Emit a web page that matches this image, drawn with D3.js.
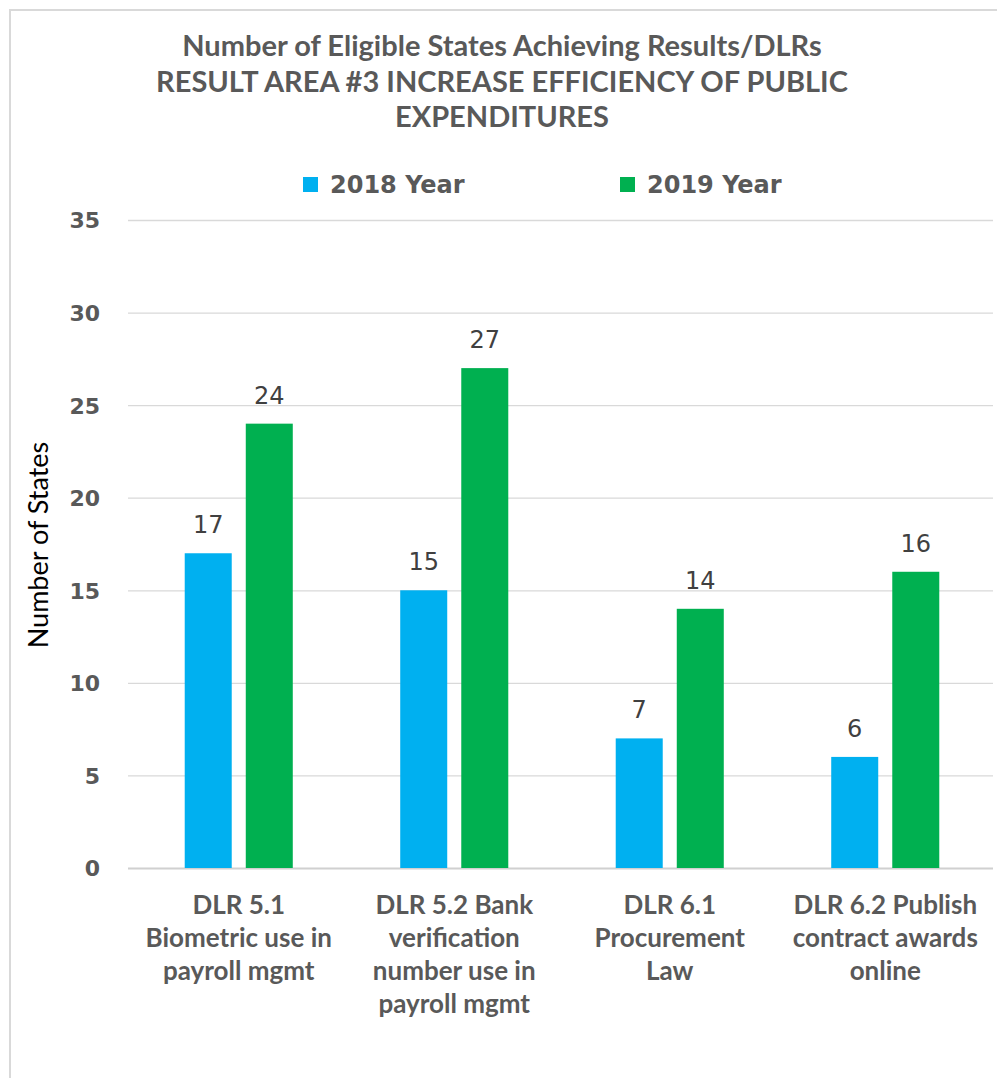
<!DOCTYPE html>
<html>
<head>
<meta charset="utf-8">
<script src="https://cdn.jsdelivr.net/npm/d3@7"></script>
<style>
  body { margin: 0; background: #fff; }
  svg { display: block; }
</style>
</head>
<body>
<svg id="chart"></svg>
<script>
// chart data
var titleLines = [
  "Number of Eligible States Achieving Results/DLRs",
  "RESULT AREA #3 INCREASE EFFICIENCY OF PUBLIC",
  "EXPENDITURES"
];
var categories = ["DLR 5.1", "DLR 5.2", "DLR 6.1", "DLR 6.2"];
var categoryLines = [
  ["DLR 5.1", "Biometric use in", "payroll mgmt"],
  ["DLR 5.2 Bank", "verification", "number use in", "payroll mgmt"],
  ["DLR 6.1", "Procurement", "Law"],
  ["DLR 6.2 Publish", "contract awards", "online"]
];
var seriesNames = ["2018 Year", "2019 Year"];
var values2018 = [17, 15, 7, 6];
var values2019 = [24, 27, 14, 16];
var yTicks = [0, 5, 10, 15, 20, 25, 30, 35];
var colors = ["#00B0F0", "#00B050"];

/* svg setting */
var svgWidth = 997;
var svgHeight = 1078;
var plot = {left: 131, right: 993, top: 220, bottom: 868};

var svg = d3.select("#chart")
    .attr("width", svgWidth)
    .attr("height", svgHeight);

// outer border of the chart area
svg.append("rect")
    .attr("x", 10).attr("y", 10)
    .attr("width", 1100).attr("height", 1200)
    .attr("fill", "#fff")
    .attr("stroke", "#d9d9d9")
    .attr("stroke-width", 2);

var rows = categories.map(function(c, i){
  return {cat: c, lines: categoryLines[i], vals: [values2018[i], values2019[i]]};
});

/* scales */
var x0 = d3.scaleBand()
    .domain(categories)
    .range([plot.left, plot.right]);

var x1 = d3.scaleBand()
    .domain(seriesNames)
    .range([0, x0.bandwidth()])
    .paddingInner(0.23)
    .paddingOuter(0.88);

var y = d3.scaleLinear()
    .domain([0, 35])
    .range([plot.bottom, plot.top]);

/* gridlines + y axis */
var yAxis = svg.append("g")
    .attr("class", "y_axis")
    .attr("transform", translate(plot.left - 3, 0))
    .call(d3.axisLeft(y).tickValues(yTicks).tickSize(-(plot.right - plot.left + 3)).tickPadding(28));

yAxis.select(".domain").remove();
yAxis.selectAll(".tick line")
    .attr("stroke", function(d){ return d === 0 ? "#d0d0d0" : "#d9d9d9"; })
    .attr("stroke-width", function(d){ return d === 0 ? 2 : 1.3; });
yAxis.selectAll(".tick text")
    .attr("font-family", "'DejaVu Sans', sans-serif")
    .attr("font-weight", "bold")
    .attr("font-size", "22px")
    .attr("fill", "#595959")
    .attr("dy", "0.36em");

/* bars */
var groups = svg.append("g").selectAll("g")
    .data(rows)
    .enter()
    .append("g")
    .attr("transform", function(d){ return translate(x0(d.cat), 0); });

groups.selectAll("rect")
    .data(function(d){ return d.vals.map(function(v, i){ return {name: seriesNames[i], v: v, i: i}; }); })
    .enter()
    .append("rect")
    .attr("x", function(d){ return x1(d.name); })
    .attr("y", function(d){ return y(d.v); })
    .attr("width", x1.bandwidth())
    .attr("height", function(d){ return y(0) - y(d.v); })
    .attr("fill", function(d){ return colors[d.i]; });

groups.selectAll("text.val")
    .data(function(d){ return d.vals.map(function(v, i){ return {name: seriesNames[i], v: v}; }); })
    .enter()
    .append("text")
    .attr("class", "val")
    .attr("x", function(d){ return x1(d.name) + x1.bandwidth() / 2; })
    .attr("y", function(d){ return y(d.v) - 20; })
    .attr("text-anchor", "middle")
    .attr("font-family", "'DejaVu Sans', sans-serif")
    .attr("font-size", "24px")
    .attr("fill", "#404040")
    .text(function(d){ return d.v; });

/* category labels */
var catLabels = svg.append("g").selectAll("text")
    .data(rows)
    .enter()
    .append("text")
    .attr("x", function(d){ return x0(d.cat) + x0.bandwidth() / 2; })
    .attr("y", 914)
    .attr("text-anchor", "middle")
    .attr("font-family", "Lato, sans-serif")
    .attr("font-weight", "bold")
    .attr("font-size", "26px")
    .attr("fill", "#595959");

catLabels.selectAll("tspan")
    .data(function(d){ return d.lines; })
    .enter()
    .append("tspan")
    .attr("x", function(){ var p = d3.select(this.parentNode).datum(); return x0(p.cat) + x0.bandwidth() / 2; })
    .attr("dy", function(d, i){ return i === 0 ? 0 : 33; })
    .text(function(d){ return d; });

/* y axis title */
svg.append("text")
    .attr("transform", translate(48, 545) + " rotate(-90)")
    .attr("text-anchor", "middle")
    .attr("font-family", "Lato, sans-serif")
    .attr("font-size", "27px")
    .attr("fill", "#000")
    .text("Number of States");

/* title */
svg.append("g").selectAll("text")
    .data(titleLines)
    .enter()
    .append("text")
    .attr("x", 502)
    .attr("y", function(d, i){ return 56 + i * 35.5; })
    .attr("text-anchor", "middle")
    .attr("font-family", "Lato, sans-serif")
    .attr("font-weight", "bold")
    .attr("font-size", "29px")
    .attr("fill", "#595959")
    .text(function(d){ return d; });

/* legend */
var legendX = [303, 620];
var legend = svg.append("g").selectAll("g")
    .data(seriesNames)
    .enter()
    .append("g")
    .attr("transform", function(d, i){ return translate(legendX[i], 177); });

legend.append("rect")
    .attr("width", 15).attr("height", 15)
    .attr("fill", function(d, i){ return colors[i]; });

legend.append("text")
    .attr("x", 27)
    .attr("y", 16)
    .attr("font-family", "'DejaVu Sans', sans-serif")
    .attr("font-weight", "bold")
    .attr("font-size", "24px")
    .attr("fill", "#595959")
    .text(function(d){ return d; });

function translate(x, y) {
  return "translate(" + x + "," + y + ")";
}
</script>
</body>
</html>
